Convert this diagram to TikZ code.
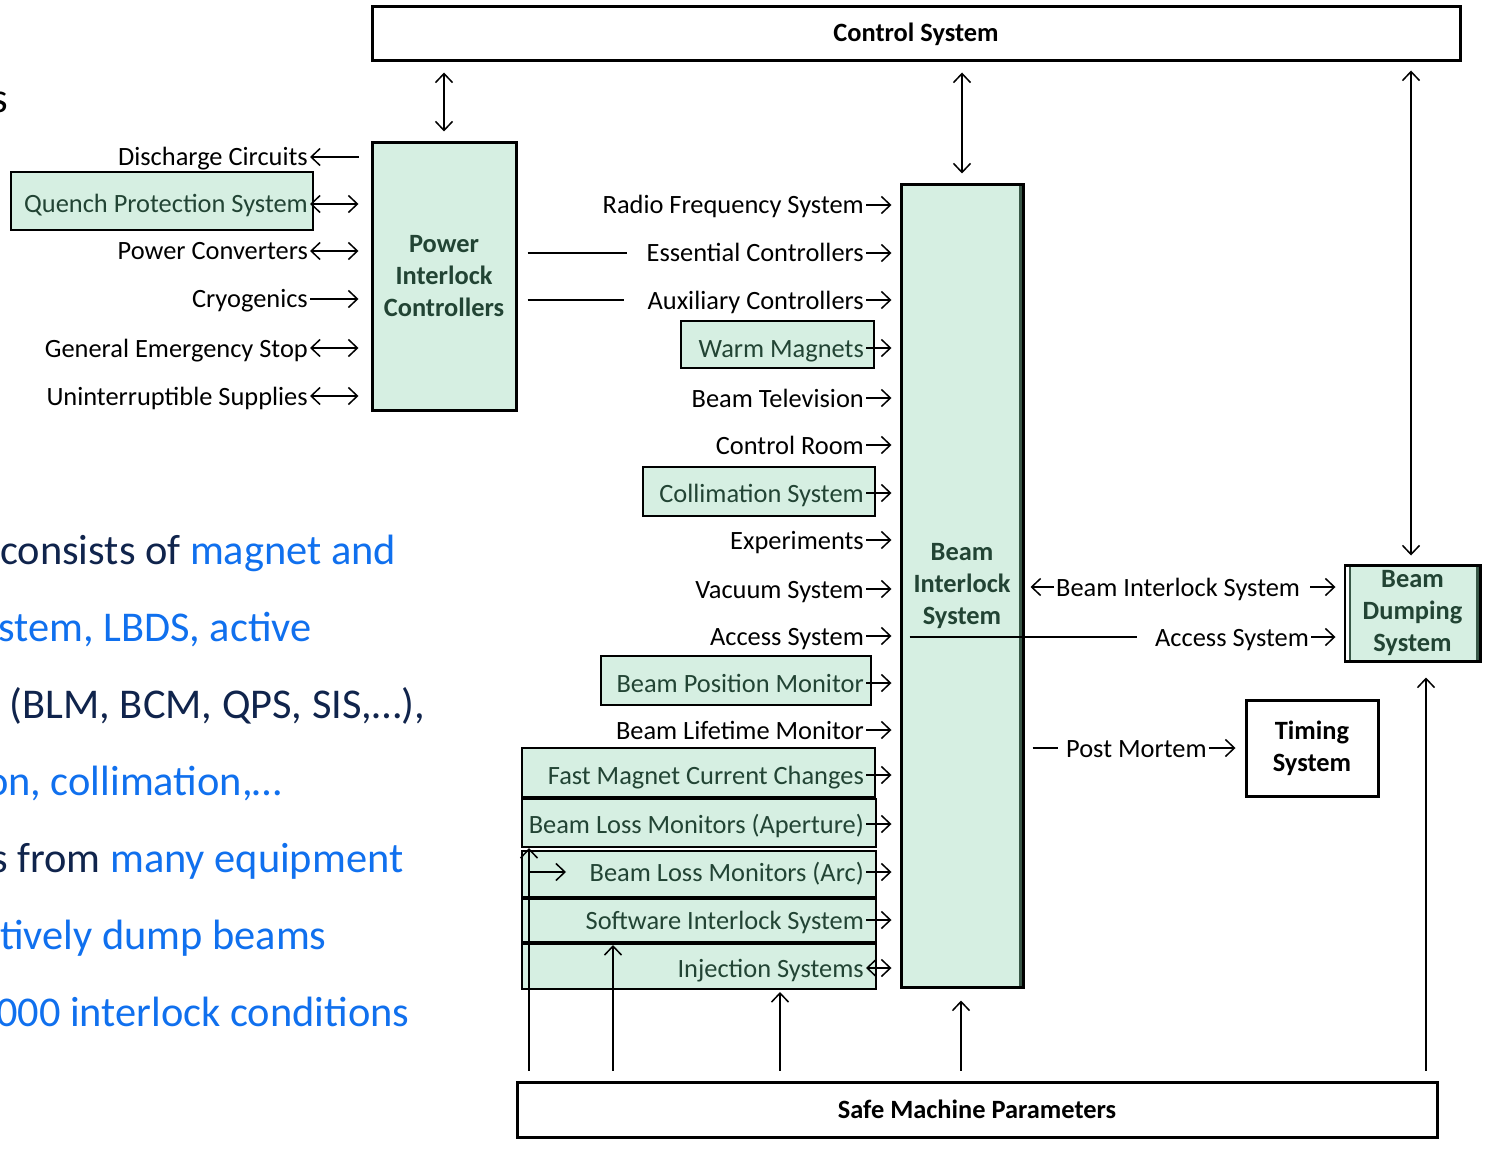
\documentclass[tikz,border=0pt]{standalone}
\usepackage{fontspec}
\setmainfont{Carlito}
\usetikzlibrary{arrows.meta,calc}
\definecolor{boxgreen}{RGB}{214,239,226}
\definecolor{textgreen}{RGB}{34,68,52}
\definecolor{edgegreen}{RGB}{56,86,70}
\definecolor{slideblue}{RGB}{16,112,238}
\definecolor{slidenavy}{RGB}{16,36,76}
\newcommand{\lblsize}{\fontsize{26.4}{32}\selectfont}
\newcommand{\slidesize}{\fontsize{42.4}{50}\selectfont}
\tikzstyle{wbox} = [rectangle, draw, line width=3pt, fill=white, font=\lblsize\bfseries, align=center]
\tikzstyle{block} = [rectangle, draw, line width=3pt, fill=boxgreen, text=textgreen, font=\lblsize\bfseries, align=center]
\tikzstyle{gbox} = [rectangle, draw, line width=2pt, fill=boxgreen]
\tikzstyle{lbl} = [inner xsep=2pt, inner ysep=0pt, text height=18pt, text depth=0pt]
\tikzstyle{glbl} = [lbl, text=textgreen]
\tikzstyle{arrow} = [draw, line width=1.5pt, ->]
\tikzstyle{link} = [draw, line width=1.5pt]
\tikzstyle{slide} = [anchor=base west, inner sep=0pt, font=\slidesize, text=slidenavy]
\begin{document}
\begin{tikzpicture}[x=1pt, y=-1pt, font=\lblsize, >={Straight Barb[length=9pt,width=17pt]}]
      \useasboundingbox (0,0) rectangle (1486,1150);
      \clip (0,0) rectangle (1486,1150);
      \node [slide, anchor=base east, text=black] at (8,113) (s0) {s};
      \node [slide] at (0,564) (s1) {consists of \textcolor{slideblue}{magnet and}};
      \node [slide, text=slideblue] at (-2,641) (s2) {stem, LBDS, active};
      \node [slide] at (0,718) (s3) {\ (BLM, BCM, QPS, SIS,…),};
      \node [slide, text=slideblue] at (-14,795) (s4) {on, collimation,…};
      \node [slide] at (-9,872) (s5) {s from \textcolor{slideblue}{many equipment}};
      \node [slide, text=slideblue] at (0,949) (s6) {tively dump beams};
      \node [slide, text=slideblue] at (-4,1026) (s7) {000 interlock conditions};
      \node [wbox, minimum width=1088pt, minimum height=54pt] at (916,34) (cs) {Control System};
      \node [wbox, minimum width=920pt, minimum height=55pt] at (977,1109.5) (smp) {Safe Machine Parameters};
      \node [block, minimum width=144pt, minimum height=267pt] at (444,276.5) (pic) {Power\\Interlock\\Controllers};
      \node [block, minimum width=122pt, minimum height=802pt] at (962,586) (bis) {Beam\\Interlock\\System};
      \draw [edgegreen, line width=3pt] ([xshift=-4.5pt, yshift=-3pt]bis.north east) -- ([xshift=-4.5pt, yshift=3pt]bis.south east);
      \node [block, minimum width=135pt, minimum height=96pt] at (1412.5,613) (bds) {Beam\\Dumping\\System};
      \draw [white, line width=3pt] ([xshift=4pt, yshift=-3pt]bds.north west) -- ([xshift=4pt, yshift=3pt]bds.south west);
      \draw [edgegreen, line width=1.5pt] ([xshift=6.5pt, yshift=-3pt]bds.north west) -- ([xshift=6.5pt, yshift=3pt]bds.south west);
      \draw [edgegreen, line width=3pt] ([xshift=-4.5pt, yshift=-3pt]bds.north east) -- ([xshift=-4.5pt, yshift=3pt]bds.south east);
      \node [wbox, minimum width=132pt, minimum height=96pt] at (1312,748) (ts) {Timing\\System};
      \node [gbox, minimum width=302pt, minimum height=58pt] at (162,201) (qpsbox) {};
      \node [gbox, minimum width=193pt, minimum height=47pt] at (777.5,344.5) (wmbox) {};
      \node [gbox, minimum width=232pt, minimum height=49pt] at (759,491.5) (colbox) {};
      \node [gbox, minimum width=270pt, minimum height=49pt] at (736,680.5) (bpmbox) {};
      \node [gbox, minimum width=353pt, minimum height=49pt] at (698.5,772.5) (fmccbox) {};
      \node [gbox, minimum width=354pt, minimum height=48pt] at (699,823) (blmabox) {};
      \node [gbox, minimum width=354pt, minimum height=46pt] at (699,874) (blmcbox) {};
      \node [gbox, minimum width=354pt, minimum height=43pt] at (699,920.5) (sisbox) {};
      \node [gbox, minimum width=354pt, minimum height=45pt] at (699,966.5) (injbox) {};
      \node [lbl, anchor=east] at (310,157) (dc) {Discharge Circuits};
      \node [glbl, anchor=east] at (310,204) (qps) {Quench Protection System};
      \node [lbl, anchor=east] at (310,251) (pc) {Power Converters};
      \node [lbl, anchor=east] at (310,299) (cry) {Cryogenics};
      \node [lbl, anchor=east] at (310,348) (ges) {General Emergency Stop};
      \node [lbl, anchor=east] at (310,396) (ups) {Uninterruptible Supplies};
      \node [lbl, anchor=east] at (866,205) (rf) {Radio Frequency System};
      \node [lbl, anchor=east] at (866,253) (ec) {Essential Controllers};
      \node [lbl, anchor=east] at (866,300) (ac) {Auxiliary Controllers};
      \node [glbl, anchor=east] at (866,348) (wm) {Warm Magnets};
      \node [lbl, anchor=east] at (866,398) (btv) {Beam Television};
      \node [lbl, anchor=east] at (866,445) (cr) {Control Room};
      \node [glbl, anchor=east] at (866,493) (col) {Collimation System};
      \node [lbl, anchor=east] at (866,540) (exp) {Experiments};
      \node [lbl, anchor=east] at (866,589) (vac) {Vacuum System};
      \node [lbl, anchor=east] at (866,636) (acc) {Access System};
      \node [glbl, anchor=east] at (866,683) (bpm) {Beam Position Monitor};
      \node [lbl, anchor=east] at (866,730) (blt) {Beam Lifetime Monitor};
      \node [glbl, anchor=east] at (866,775) (fmcc) {Fast Magnet Current Changes};
      \node [glbl, anchor=east] at (866,824) (blma) {Beam Loss Monitors (Aperture)};
      \node [glbl, anchor=east] at (866,872) (blmc) {Beam Loss Monitors (Arc)};
      \node [glbl, anchor=east] at (866,920) (sis) {Software Interlock System};
      \node [glbl, anchor=east] at (866,968) (inj) {Injection Systems};
      \node [lbl, anchor=west] at (1054,587) (bil) {Beam Interlock System};
      \node [lbl, anchor=west] at (1153,637) (acr) {Access System};
      \node [lbl, anchor=west] at (1064,748) (pm) {Post Mortem};
      \path [arrow, <->, shorten <=10pt, shorten >=10pt] (pic.north) -- (pic.north |- cs.south);
      \path [arrow, <->, shorten <=10pt, shorten >=10pt] (bis.north) -- (bis.north |- cs.south);
      \path [arrow, <->, shorten <=8pt, shorten >=8pt] ([xshift=-1.5pt]bds.north) -- ([xshift=-1.5pt]bds.north |- cs.south);
      \path [arrow, <-, shorten >=12pt] (dc.east) -- (dc.east -| pic.west);
      \path [arrow, <->, shorten >=12pt] (qps.east) -- (qps.east -| pic.west);
      \path [arrow, <->, shorten >=12pt] (pc.east) -- (pc.east -| pic.west);
      \path [arrow, shorten >=12pt] (cry.east) -- (cry.east -| pic.west);
      \path [arrow, <->, shorten >=12pt] (ges.east) -- (ges.east -| pic.west);
      \path [arrow, <->, shorten >=12pt] (ups.east) -- (ups.east -| pic.west);
      \path [link, shorten <=10pt, shorten >=17pt] (pic.east |- ec.west) -- (ec.west);
      \path [link, shorten <=10pt, shorten >=21pt] (pic.east |- ac.west) -- (ac.west);
      \path [arrow, shorten >=8pt] (rf.east) -- (rf.east -| bis.west);
      \path [arrow, shorten >=8pt] (ec.east) -- (ec.east -| bis.west);
      \path [arrow, shorten >=8pt] (ac.east) -- (ac.east -| bis.west);
      \path [arrow, shorten >=8pt] (wm.east) -- (wm.east -| bis.west);
      \path [arrow, shorten >=8pt] (btv.east) -- (btv.east -| bis.west);
      \path [arrow, shorten >=8pt] (cr.east) -- (cr.east -| bis.west);
      \path [arrow, shorten >=8pt] (col.east) -- (col.east -| bis.west);
      \path [arrow, shorten >=8pt] (exp.east) -- (exp.east -| bis.west);
      \path [arrow, shorten >=8pt] (vac.east) -- (vac.east -| bis.west);
      \path [arrow, shorten >=8pt] (acc.east) -- (acc.east -| bis.west);
      \path [arrow, shorten >=8pt] (bpm.east) -- (bpm.east -| bis.west);
      \path [arrow, shorten >=8pt] (blt.east) -- (blt.east -| bis.west);
      \path [arrow, shorten >=8pt] (fmcc.east) -- (fmcc.east -| bis.west);
      \path [arrow, shorten >=8pt] (blma.east) -- (blma.east -| bis.west);
      \path [arrow, shorten >=8pt] (blmc.east) -- (blmc.east -| bis.west);
      \path [arrow, shorten >=8pt] (sis.east) -- (sis.east -| bis.west);
      \path [arrow, <->, shorten >=8pt] (inj.east) -- (inj.east -| bis.west);
      \path [arrow, shorten >=6pt] (bil.west) -- (bil.west -| bis.east);
      \path [arrow, shorten <=8pt, shorten >=8pt] (bil.east) -- (bil.east -| bds.west);
      \path [link, shorten <=10pt, shorten >=16pt] (acr.west -| bis.west) -- (acr.west);
      \path [arrow, shorten >=8pt] (acr.east) -- (acr.east -| bds.west);
      \path [link, shorten <=8pt, shorten >=6pt] (pm.west -| bis.east) -- (pm.west);
      \path [arrow, shorten >=9pt] (pm.east) -- (pm.east -| ts.west);
      \coordinate (p1) at (529,0);
      \coordinate (p2) at (613,0);
      \coordinate (p3) at (780,0);
      \coordinate (p4) at (961,0);
      \coordinate (p5) at (1426,0);
      \path [arrow, shorten <=10pt] (p1 |- smp.north) -- (p1 |- blmabox.south);
      \path [arrow, shorten <=10pt, shorten >=2pt] (p2 |- smp.north) -- (p2 |- sisbox.south);
      \path [arrow, shorten <=10pt, shorten >=2pt] (p3 |- smp.north) -- (p3 |- injbox.south);
      \path [arrow, shorten <=10pt, shorten >=12pt] (p4 |- smp.north) -- (p4 |- bis.south);
      \path [arrow, shorten <=10pt, shorten >=15pt] (p5 |- smp.north) -- (p5 |- bds.south);
      \path [arrow] (p1 |- blmc.east) -- ++(37,0);
    \end{tikzpicture}
\end{document}
